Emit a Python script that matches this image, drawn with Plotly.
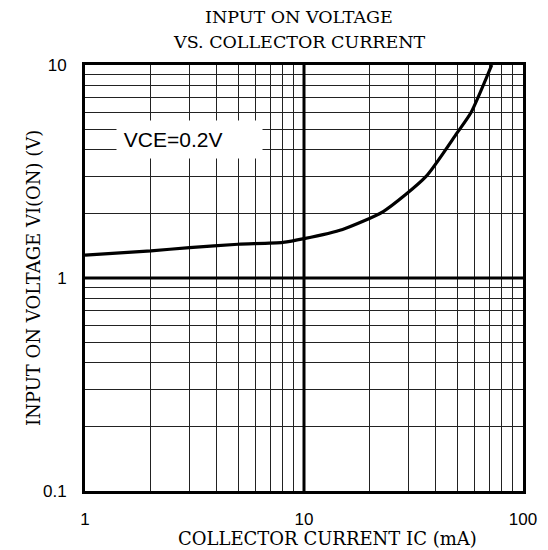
import plotly.graph_objects as go

# data
ic_ma = [1, 2, 3, 5, 8, 10, 15, 23, 36, 50, 58, 72]
vi_on = [1.28, 1.34, 1.39, 1.44, 1.47, 1.53, 1.69, 2.05, 2.99, 4.8, 6.0, 10.0]

x_grid = [m * d for d in (1, 10) for m in range(1, 10)] + [100]
x_labels = {1: "1", 10: "10", 100: "100"}
y_grid = [m * d for d in (0.1, 1) for m in range(1, 10)] + [10]
y_labels = {0.1: "0.1", 1: "1", 10: "10"}

serif = "DejaVu Serif"
sans = "Liberation Sans"

fig = go.Figure()
fig.add_trace(go.Scatter(x=ic_ma, y=vi_on, mode="lines", line_shape="spline",
                         line=dict(color="black", width=3.2, smoothing=0.6),
                         showlegend=False))

# page body has an 8px margin, so the figure is shrunk by 8px
fig.update_layout(
    width=540, height=542,
    margin=dict(l=77, r=25, t=57, b=59),
    paper_bgcolor="white", plot_bgcolor="white",
    xaxis=dict(type="log", range=[0, 2],
               tickvals=x_grid,
               ticktext=[x_labels.get(round(v, 6), "") for v in x_grid],
               showgrid=True, gridcolor="#222", gridwidth=1,
               ticks="", ticklabelstandoff=11,
               tickfont=dict(family=sans, size=17, color="black"),
               showline=True, linecolor="black", linewidth=3, mirror=True,
               zeroline=False),
    yaxis=dict(type="log", range=[-1, 1],
               tickvals=y_grid,
               ticktext=[y_labels.get(round(v, 6), "") for v in y_grid],
               showgrid=True, gridcolor="#222", gridwidth=1,
               ticks="", ticklabelstandoff=12,
               tickfont=dict(family=sans, size=17, color="black"),
               showline=True, linecolor="black", linewidth=3, mirror=True,
               zeroline=False),
)

# heavy decade lines
fig.add_shape(type="line", xref="x", yref="paper", x0=10, x1=10, y0=0, y1=1,
              line=dict(color="black", width=3))
fig.add_shape(type="line", xref="paper", yref="y", x0=0, x1=1, y0=1, y1=1,
              line=dict(color="black", width=3))

# condition label
fig.add_annotation(xref="paper", yref="paper", x=(116 - 85) / 438, y=(491 - 120) / 426,
                   xanchor="left", yanchor="top", showarrow=False,
                   text="\u00a0VCE=0.2V", width=143, height=35, align="left",
                   bgcolor="white", borderpad=1,
                   font=dict(family=sans, size=21, color="black"))

# titles
tx = (299 - 85) / 438
fig.add_annotation(xref="paper", yref="paper", x=tx, y=1, yshift=48,
                   yanchor="middle", showarrow=False, text="INPUT ON VOLTAGE",
                   font=dict(family=serif, size=17.5, color="black"))
fig.add_annotation(xref="paper", yref="paper", x=tx, y=1, yshift=23,
                   yanchor="middle", showarrow=False, text="VS. COLLECTOR CURRENT",
                   font=dict(family=serif, size=17.5, color="black"))
fig.add_annotation(xref="paper", yref="paper", x=(327 - 85) / 438, y=0, yshift=-47,
                   yanchor="middle", showarrow=False, text="COLLECTOR CURRENT IC (mA)",
                   font=dict(family=serif, size=18, color="black"))
fig.add_annotation(xref="paper", yref="paper", x=0, xshift=-52, y=0.5,
                   xanchor="center", yanchor="middle",
                   textangle=-90, showarrow=False, text="INPUT ON VOLTAGE VI(ON) (V)",
                   font=dict(family=serif, size=18, color="black"))

fig.write_html("out.html")
